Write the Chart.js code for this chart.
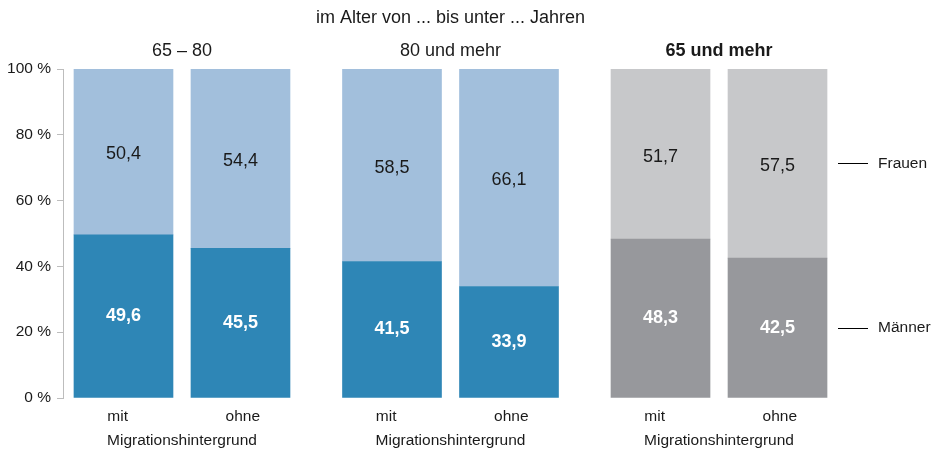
<!DOCTYPE html>
<html><head><meta charset="utf-8">
<script src="https://cdn.jsdelivr.net/npm/chart.js@4.4.0/dist/chart.umd.min.js"></script>
<style>html,body{margin:0;padding:0;background:#fff}#wrap{width:939px;height:450px;position:relative}</style>
</head><body><div id="wrap"><canvas id="c"></canvas></div>
<script>
// ---- data ----
const chartTitle = 'im Alter von ... bis unter ... Jahren';
const groupTitles = ['65 – 80', '80 und mehr', '65 und mehr'];
const barLabels = ['mit', 'ohne', 'mit', 'ohne', 'mit', 'ohne'];
const groupAxisLabel = 'Migrationshintergrund';
const seriesNames = ['Männer', 'Frauen'];
const maenner = [49.6, 45.5, 41.5, 33.9, 48.3, 42.5];
const frauen  = [50.4, 54.4, 58.5, 66.1, 51.7, 57.5];

// ---- layout / style constants ----
const FONT = '"Liberation Sans", Arial, Helvetica, sans-serif';
const TEXT = '#1a1a1a';
const GROUP_STEP = 2.295;
const X_MIN = -0.517, X_MAX = 6.107;
const COL_M = ['#2e86b6', '#2e86b6', '#2e86b6', '#2e86b6', '#97989c', '#97989c'];
const COL_F = ['#a2bfdc', '#a2bfdc', '#a2bfdc', '#a2bfdc', '#c7c8ca', '#c7c8ca'];

const barPos = barLabels.map((_, i) => Math.floor(i / 2) * GROUP_STEP + (i % 2));
const groupCenters = groupTitles.map((_, g) => g * GROUP_STEP + 0.5);
const last = maenner.length - 1;
const legendPos = [maenner[last] / 2, maenner[last] + frauen[last] / 2];

const valueLabels = {
  id: 'valueLabels',
  afterDatasetsDraw(chart) {
    const ctx = chart.ctx;
    chart.data.datasets.forEach((ds, di) => {
      const meta = chart.getDatasetMeta(di);
      meta.data.forEach((el, i) => {
        const v = ds.data[i].y;
        ctx.save();
        ctx.font = (di === 0 ? 'bold ' : '') + '18px ' + FONT;
        ctx.fillStyle = di === 0 ? '#ffffff' : TEXT;
        ctx.textAlign = 'center';
        ctx.textBaseline = 'middle';
        const y = (el.y + el.base) / 2 + (di === 0 ? 0 : 2.5);
        ctx.fillText(v.toFixed(1).replace('.', ','), el.x, y);
        ctx.restore();
      });
    });
  }
};

const hiddenGrid = { display: false, drawTicks: false, offset: false };

new Chart(document.getElementById('c'), {
  type: 'bar',
  data: {
    datasets: [
      { label: seriesNames[0], data: maenner.map((v, i) => ({ x: barPos[i], y: v })), backgroundColor: COL_M, barThickness: 99 },
      { label: seriesNames[1], data: frauen.map((v, i) => ({ x: barPos[i], y: v })), backgroundColor: COL_F, barThickness: 99 }
    ]
  },
  options: {
    responsive: true,
    maintainAspectRatio: false,
    animation: false,
    events: [],
    layout: { padding: 0 },
    plugins: {
      legend: { display: false },
      tooltip: { enabled: false },
      title: {
        display: true, text: chartTitle, fullSize: false, color: TEXT,
        font: { family: FONT, size: 18, weight: 'normal' },
        padding: { top: 7.2, bottom: 0 }
      }
    },
    scales: {
      x: {
        type: 'linear', position: 'bottom', stacked: true, offset: false, min: X_MIN, max: X_MAX, bounds: 'data',
        grid: hiddenGrid, border: { display: false },
        afterBuildTicks: s => { s.ticks = barPos.map((p, i) => ({ value: p + (i % 2 === 0 ? -0.05 : 0.02) })); },
        ticks: { autoSkip: false, maxRotation: 0, padding: 9.7, color: TEXT, font: { family: FONT, size: 15.5 }, callback: (v, i) => barLabels[i] },
        afterFit: s => { s.height = 32; }
      },
      xGroup: {
        axis: 'x', type: 'linear', position: 'bottom', weight: 5, offset: false, min: X_MIN, max: X_MAX, bounds: 'data',
        grid: hiddenGrid, border: { display: false },
        afterBuildTicks: s => { s.ticks = groupCenters.map(v => ({ value: v })); },
        ticks: { autoSkip: false, maxRotation: 0, padding: 1.2, color: TEXT, font: { family: FONT, size: 15.5 }, callback: () => groupAxisLabel },
        afterFit: s => { s.height = 20; }
      },
      xTop: {
        axis: 'x', type: 'linear', position: 'top', offset: false, min: X_MIN, max: X_MAX, bounds: 'data',
        grid: hiddenGrid, border: { display: false },
        afterBuildTicks: s => { s.ticks = groupCenters.map(v => ({ value: v })); },
        ticks: {
          autoSkip: false, maxRotation: 0, padding: 6.7, color: TEXT,
          font: c => ({ family: FONT, size: 18, weight: c.index === 2 ? 'bold' : 'normal' }),
          callback: (v, i) => groupTitles[i]
        },
        afterFit: s => { s.height = 40.2; }
      },
      y: {
        stacked: true, min: 0, max: 100, position: 'left',
        ticks: { stepSize: 20, padding: 6, color: TEXT, font: { family: FONT, size: 15.5 }, callback: v => v + ' %' },
        grid: { drawOnChartArea: false, tickLength: 6, color: '#bdbdbd' },
        border: { display: true, color: '#bdbdbd' },
        afterFit: s => { s.width = 63; }
      },
      yLegend: {
        axis: 'y', type: 'linear', position: 'right', min: 0, max: 100, bounds: 'data',
        afterBuildTicks: s => { s.ticks = legendPos.map(v => ({ value: v })); },
        ticks: { autoSkip: false, padding: 10, color: TEXT, font: { family: FONT, size: 15.5 }, callback: (v, i) => seriesNames[i] },
        grid: { drawOnChartArea: false, drawTicks: true, tickLength: 30, color: '#000', lineWidth: 1 },
        border: { display: false },
        afterFit: s => { s.width = 101; }
      }
    }
  },
  plugins: [valueLabels]
});
</script>
</body></html>
